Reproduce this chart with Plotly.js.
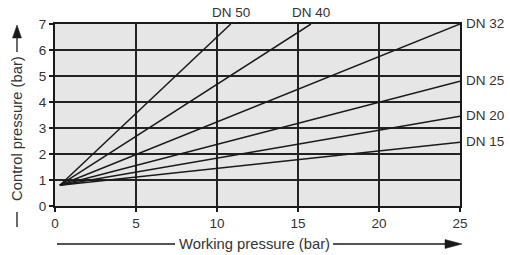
<!DOCTYPE html>
<html>
<head>
<meta charset="utf-8">
<script src="https://cdn.plot.ly/plotly-3.0.1.min.js"></script>
<style>html,body{margin:0;padding:0;background:#fff;}#chart{width:510px;height:255px;}</style>
</head>
<body>
<div id="chart"></div>
<script>
// ---- data ----
const seriesNames = ['DN 50', 'DN 40', 'DN 32', 'DN 25', 'DN 20', 'DN 15'];
const xStart = [0.3, 0.3, 0.3, 0.3, 0.3, 0.3];
const yStart = [0.8, 0.8, 0.8, 0.8, 0.8, 0.8];
const xEnd = [10.85, 15.8, 25, 25, 25, 25];
const yEnd = [7, 7, 7, 4.8, 3.45, 2.45];
const xTicks = [0, 5, 10, 15, 20, 25];
const yTicks = [0, 1, 2, 3, 4, 5, 6, 7];
const xTitle = 'Working pressure (bar)';
const yTitle = 'Control pressure (bar)';

// ---- layout geometry ----
const W = 510, H = 255;
const PL = 55, PR = 460, PT = 24, PB = 206;
const px = x => (x - PL) / (PR - PL);
const py = y => (PB - y) / (PB - PT);
const ink = '#1a1a1a';
const txt = '#333333';
const font = 'Arial, "Liberation Sans", sans-serif';

const traces = seriesNames.map((n, i) => ({
  type: 'scatter', mode: 'lines', name: n,
  x: [xStart[i], xEnd[i]], y: [yStart[i], yEnd[i]],
  line: {color: ink, width: 1.5}, hoverinfo: 'skip', showlegend: false
}));

const annotations = seriesNames.map((n, i) => {
  const top = yEnd[i] >= 7 && xEnd[i] < 25;
  return top ? {
    x: xEnd[i], y: yEnd[i], xref: 'x', yref: 'y', text: n, showarrow: false,
    xanchor: 'center', yanchor: 'bottom', yshift: 2,
    font: {family: font, size: 13.5, color: txt}
  } : {
    x: xEnd[i], y: yEnd[i], xref: 'x', yref: 'y', text: n, showarrow: false,
    xanchor: 'left', yanchor: 'middle', xshift: 4, yshift: 1,
    font: {family: font, size: 13.5, color: txt}
  };
});
annotations.push({
  x: px(254), y: py(244), xref: 'paper', yref: 'paper', text: xTitle, showarrow: false,
  xanchor: 'center', yanchor: 'middle', font: {family: font, size: 14.8, color: txt}
});
annotations.push({
  x: px(17), y: py(129), xref: 'paper', yref: 'paper', text: yTitle, showarrow: false,
  textangle: -90, xanchor: 'center', yanchor: 'middle', font: {family: font, size: 14.8, color: txt}
});

const lineShape = (x0, y0, x1, y1) => ({
  type: 'line', xref: 'paper', yref: 'paper',
  x0: px(x0), y0: py(y0), x1: px(x1), y1: py(y1),
  line: {color: ink, width: 1.3}
});
const triShape = pts => ({
  type: 'path', xref: 'paper', yref: 'paper',
  path: 'M ' + pts.map(p => px(p[0]) + ',' + py(p[1])).join(' L ') + ' Z',
  fillcolor: ink, line: {color: ink, width: 0.5}
});
const shapes = [
  lineShape(57, 244, 175, 244),
  lineShape(333, 244, 449, 244),
  triShape([[462, 244], [445, 239.5], [445, 248.5]]),
  lineShape(17, 212, 17, 227),
  lineShape(17, 52, 17, 36),
  triShape([[17, 25], [12.5, 38], [21.5, 38]])
];

const axisCommon = {
  showline: true, mirror: true, linecolor: ink, linewidth: 2,
  showgrid: true, gridcolor: '#222222', gridwidth: 2,
  zeroline: false, ticks: 'outside', ticklen: 4, tickwidth: 1.4, tickcolor: ink,
  tickfont: {family: font, size: 13.5, color: txt}, fixedrange: true
};

const layout = {
  width: W, height: H,
  margin: {l: PL, r: W - PR, t: PT, b: H - PB, pad: 0},
  paper_bgcolor: '#ffffff', plot_bgcolor: '#e6e6e6',
  xaxis: Object.assign({}, axisCommon, {range: [0, 25], tickvals: xTicks, ticktext: xTicks.map(String)}),
  yaxis: Object.assign({}, axisCommon, {range: [0, 7], tickvals: yTicks, ticktext: yTicks.map(String)}),
  annotations: annotations, shapes: shapes, showlegend: false
};

Plotly.newPlot('chart', traces, layout, {staticPlot: true, displayModeBar: false});
</script>
</body>
</html>
